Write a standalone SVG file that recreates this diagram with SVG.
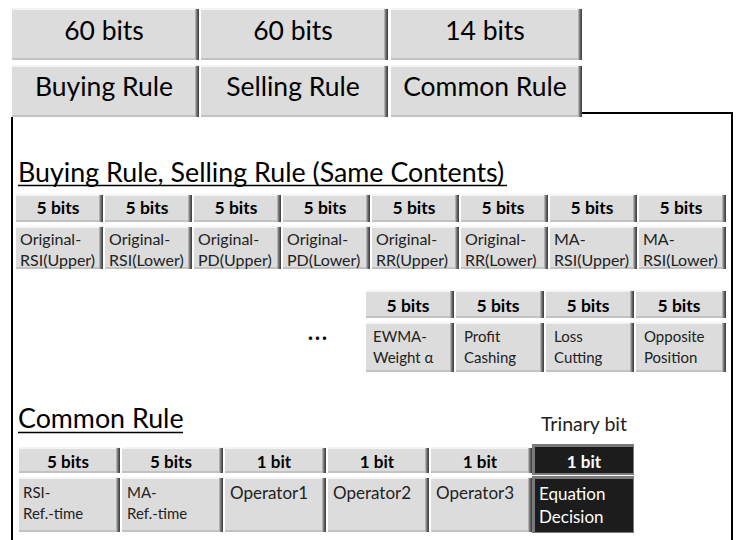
<svg xmlns="http://www.w3.org/2000/svg" width="739" height="540" viewBox="0 0 739 540">
<defs>
<linearGradient id="rg" x1="0" y1="0" x2="1" y2="0"><stop offset="0" stop-color="#c8c8c8"/><stop offset="0.5" stop-color="#6a6a6a"/><stop offset="1" stop-color="#3a3a3a"/></linearGradient>
</defs>
<style>
.f{fill:#dcdcdc}.hl{fill:#f4f4f4}.bt{fill:#c2c2c2}.rt{fill:url(#rg)}
.fk{fill:#1c1c1c}.bk{fill:#7a7a7a}
text{font-family:Lato,"Liberation Sans",sans-serif;fill:#000}
.big{font-size:26.5px;text-anchor:middle}
.hd{font-size:26.8px}
.b5{font-size:17.5px;font-weight:bold;text-anchor:middle}
.b6{font-size:17px;font-weight:bold;text-anchor:middle}
.lb{font-size:16px;fill:#222}
.lc{font-size:15px;fill:#222}
.lb2{font-size:17px;fill:#222}
.w{fill:#fff}
.frame{fill:none;stroke:#000;stroke-width:2}
.ul{stroke:#000;stroke-width:1.5}
</style>
<rect width="739" height="540" fill="#fff"/>
<g id="frame"><path class="frame" d="M582,113H732V540M12,117V540"/></g>
<!-- top row -->
<g id="top-buying">
<rect class="f" x="12" y="8" width="187" height="52"/><rect class="hl" x="12" y="8" width="187" height="2"/><rect class="bt" x="12" y="58" width="187" height="2"/><rect class="rt" x="195" y="9" width="4" height="51"/>
<text class="big" x="104" y="40">60 bits</text>
<rect class="f" x="12" y="65" width="187" height="52"/><rect class="hl" x="12" y="65" width="187" height="2"/><rect class="bt" x="12" y="115" width="187" height="2"/><rect class="rt" x="195" y="66" width="4" height="51"/>
<text class="big" x="104" y="96">Buying Rule</text>
</g>
<g id="top-selling">
<rect class="f" x="201" y="8" width="187" height="52"/><rect class="hl" x="201" y="8" width="187" height="2"/><rect class="bt" x="201" y="58" width="187" height="2"/><rect class="rt" x="384" y="9" width="4" height="51"/>
<text class="big" x="293" y="40">60 bits</text>
<rect class="f" x="201" y="65" width="187" height="52"/><rect class="hl" x="201" y="65" width="187" height="2"/><rect class="bt" x="201" y="115" width="187" height="2"/><rect class="rt" x="384" y="66" width="4" height="51"/>
<text class="big" x="293" y="96">Selling Rule</text>
</g>
<g id="top-common">
<rect class="f" x="391" y="8" width="191" height="52"/><rect class="hl" x="391" y="8" width="191" height="2"/><rect class="bt" x="391" y="58" width="191" height="2"/><rect class="rt" x="578" y="9" width="4" height="51"/>
<text class="big" x="485" y="40">14 bits</text>
<rect class="f" x="391" y="65" width="191" height="52"/><rect class="hl" x="391" y="65" width="191" height="2"/><rect class="bt" x="391" y="115" width="191" height="2"/><rect class="rt" x="578" y="66" width="4" height="51"/>
<text class="big" x="485" y="96">Common Rule</text>
</g>
<!-- heading 1 -->
<g id="heading1">
<text class="hd" x="18" y="182">Buying Rule, Selling Rule (Same Contents)</text>
<line class="ul" x1="18" y1="185.5" x2="507" y2="185.5"/>
</g>
<!-- row 1 -->
<g id="orsi-u">
<rect class="f" x="16" y="194" width="87" height="28"/><rect class="hl" x="16" y="194" width="87" height="2"/><rect class="bt" x="16" y="220" width="87" height="2"/><rect class="rt" x="99" y="195" width="4" height="27"/>
<text class="b5" x="58" y="214">5 bits</text>
<rect class="f" x="16" y="226" width="87" height="43"/><rect class="hl" x="16" y="226" width="87" height="2"/><rect class="bt" x="16" y="267" width="87" height="2"/><rect class="rt" x="99" y="227" width="4" height="42"/>
<text class="lb" x="20" y="245">Original-</text><text class="lb" x="20" y="266">RSI(Upper)</text>
</g>
<g id="orsi-l">
<rect class="f" x="105" y="194" width="87" height="28"/><rect class="hl" x="105" y="194" width="87" height="2"/><rect class="bt" x="105" y="220" width="87" height="2"/><rect class="rt" x="188" y="195" width="4" height="27"/>
<text class="b5" x="147" y="214">5 bits</text>
<rect class="f" x="105" y="226" width="87" height="43"/><rect class="hl" x="105" y="226" width="87" height="2"/><rect class="bt" x="105" y="267" width="87" height="2"/><rect class="rt" x="188" y="227" width="4" height="42"/>
<text class="lb" x="109" y="245">Original-</text><text class="lb" x="109" y="266">RSI(Lower)</text>
</g>
<g id="opd-u">
<rect class="f" x="194" y="194" width="87" height="28"/><rect class="hl" x="194" y="194" width="87" height="2"/><rect class="bt" x="194" y="220" width="87" height="2"/><rect class="rt" x="277" y="195" width="4" height="27"/>
<text class="b5" x="236" y="214">5 bits</text>
<rect class="f" x="194" y="226" width="87" height="43"/><rect class="hl" x="194" y="226" width="87" height="2"/><rect class="bt" x="194" y="267" width="87" height="2"/><rect class="rt" x="277" y="227" width="4" height="42"/>
<text class="lb" x="198" y="245">Original-</text><text class="lb" x="198" y="266">PD(Upper)</text>
</g>
<g id="opd-l">
<rect class="f" x="283" y="194" width="87" height="28"/><rect class="hl" x="283" y="194" width="87" height="2"/><rect class="bt" x="283" y="220" width="87" height="2"/><rect class="rt" x="366" y="195" width="4" height="27"/>
<text class="b5" x="325" y="214">5 bits</text>
<rect class="f" x="283" y="226" width="87" height="43"/><rect class="hl" x="283" y="226" width="87" height="2"/><rect class="bt" x="283" y="267" width="87" height="2"/><rect class="rt" x="366" y="227" width="4" height="42"/>
<text class="lb" x="287" y="245">Original-</text><text class="lb" x="287" y="266">PD(Lower)</text>
</g>
<g id="orr-u">
<rect class="f" x="372" y="194" width="87" height="28"/><rect class="hl" x="372" y="194" width="87" height="2"/><rect class="bt" x="372" y="220" width="87" height="2"/><rect class="rt" x="455" y="195" width="4" height="27"/>
<text class="b5" x="414" y="214">5 bits</text>
<rect class="f" x="372" y="226" width="87" height="43"/><rect class="hl" x="372" y="226" width="87" height="2"/><rect class="bt" x="372" y="267" width="87" height="2"/><rect class="rt" x="455" y="227" width="4" height="42"/>
<text class="lb" x="376" y="245">Original-</text><text class="lb" x="376" y="266">RR(Upper)</text>
</g>
<g id="orr-l">
<rect class="f" x="461" y="194" width="87" height="28"/><rect class="hl" x="461" y="194" width="87" height="2"/><rect class="bt" x="461" y="220" width="87" height="2"/><rect class="rt" x="544" y="195" width="4" height="27"/>
<text class="b5" x="503" y="214">5 bits</text>
<rect class="f" x="461" y="226" width="87" height="43"/><rect class="hl" x="461" y="226" width="87" height="2"/><rect class="bt" x="461" y="267" width="87" height="2"/><rect class="rt" x="544" y="227" width="4" height="42"/>
<text class="lb" x="465" y="245">Original-</text><text class="lb" x="465" y="266">RR(Lower)</text>
</g>
<g id="marsi-u">
<rect class="f" x="550" y="194" width="87" height="28"/><rect class="hl" x="550" y="194" width="87" height="2"/><rect class="bt" x="550" y="220" width="87" height="2"/><rect class="rt" x="633" y="195" width="4" height="27"/>
<text class="b5" x="592" y="214">5 bits</text>
<rect class="f" x="550" y="226" width="87" height="43"/><rect class="hl" x="550" y="226" width="87" height="2"/><rect class="bt" x="550" y="267" width="87" height="2"/><rect class="rt" x="633" y="227" width="4" height="42"/>
<text class="lb" x="554" y="245">MA-</text><text class="lb" x="554" y="266">RSI(Upper)</text>
</g>
<g id="marsi-l">
<rect class="f" x="639" y="194" width="87" height="28"/><rect class="hl" x="639" y="194" width="87" height="2"/><rect class="bt" x="639" y="220" width="87" height="2"/><rect class="rt" x="722" y="195" width="4" height="27"/>
<text class="b5" x="681" y="214">5 bits</text>
<rect class="f" x="639" y="226" width="87" height="43"/><rect class="hl" x="639" y="226" width="87" height="2"/><rect class="bt" x="639" y="267" width="87" height="2"/><rect class="rt" x="722" y="227" width="4" height="42"/>
<text class="lb" x="643" y="245">MA-</text><text class="lb" x="643" y="266">RSI(Lower)</text>
</g>
<!-- row 2 -->
<g id="ellipsis"><text x="308" y="344" style="font-size:18px;font-weight:bold;letter-spacing:2px">···</text></g>
<g id="ewma">
<rect class="f" x="366" y="290" width="88" height="28"/><rect class="hl" x="366" y="290" width="88" height="2"/><rect class="bt" x="366" y="316" width="88" height="2"/><rect class="rt" x="450" y="291" width="4" height="27"/>
<text class="b5" x="408" y="312">5 bits</text>
<rect class="f" x="366" y="322" width="88" height="50"/><rect class="hl" x="366" y="322" width="88" height="2"/><rect class="bt" x="366" y="370" width="88" height="2"/><rect class="rt" x="450" y="323" width="4" height="49"/>
<text class="lc" x="373" y="342">EWMA-</text><text class="lc" x="373" y="363">Weight α</text>
</g>
<g id="profit">
<rect class="f" x="456" y="290" width="88" height="28"/><rect class="hl" x="456" y="290" width="88" height="2"/><rect class="bt" x="456" y="316" width="88" height="2"/><rect class="rt" x="540" y="291" width="4" height="27"/>
<text class="b5" x="498" y="312">5 bits</text>
<rect class="f" x="456" y="322" width="88" height="50"/><rect class="hl" x="456" y="322" width="88" height="2"/><rect class="bt" x="456" y="370" width="88" height="2"/><rect class="rt" x="540" y="323" width="4" height="49"/>
<text class="lc" x="464" y="342">Profit</text><text class="lc" x="464" y="363">Cashing</text>
</g>
<g id="loss">
<rect class="f" x="546" y="290" width="88" height="28"/><rect class="hl" x="546" y="290" width="88" height="2"/><rect class="bt" x="546" y="316" width="88" height="2"/><rect class="rt" x="630" y="291" width="4" height="27"/>
<text class="b5" x="588" y="312">5 bits</text>
<rect class="f" x="546" y="322" width="88" height="50"/><rect class="hl" x="546" y="322" width="88" height="2"/><rect class="bt" x="546" y="370" width="88" height="2"/><rect class="rt" x="630" y="323" width="4" height="49"/>
<text class="lc" x="554" y="342">Loss</text><text class="lc" x="554" y="363">Cutting</text>
</g>
<g id="opposite">
<rect class="f" x="636" y="290" width="90" height="28"/><rect class="hl" x="636" y="290" width="90" height="2"/><rect class="bt" x="636" y="316" width="90" height="2"/><rect class="rt" x="722" y="291" width="4" height="27"/>
<text class="b5" x="679" y="312">5 bits</text>
<rect class="f" x="636" y="322" width="90" height="50"/><rect class="hl" x="636" y="322" width="90" height="2"/><rect class="bt" x="636" y="370" width="90" height="2"/><rect class="rt" x="722" y="323" width="4" height="49"/>
<text class="lc" x="644" y="342">Opposite</text><text class="lc" x="644" y="363">Position</text>
</g>
<!-- heading 2 -->
<g id="heading2">
<text class="hd" x="18" y="428">Common Rule</text>
<line class="ul" x1="18" y1="432.5" x2="183" y2="432.5"/>
<text x="541" y="431" style="font-size:19.5px;fill:#222">Trinary bit</text>
</g>
<!-- bottom row -->
<g id="rsi-ref">
<rect class="f" x="19" y="447" width="101" height="26"/><rect class="hl" x="19" y="447" width="101" height="2"/><rect class="bt" x="19" y="471" width="101" height="2"/><rect class="rt" x="116" y="448" width="4" height="25"/>
<text class="b6" x="68" y="468">5 bits</text>
<rect class="f" x="19" y="477" width="101" height="55"/><rect class="hl" x="19" y="477" width="101" height="2"/><rect class="bt" x="19" y="530" width="101" height="2"/><rect class="rt" x="116" y="478" width="4" height="54"/>
<text class="lc" x="23" y="498">RSI-</text><text class="lc" x="23" y="519">Ref.-time</text>
</g>
<g id="ma-ref">
<rect class="f" x="122" y="447" width="101" height="26"/><rect class="hl" x="122" y="447" width="101" height="2"/><rect class="bt" x="122" y="471" width="101" height="2"/><rect class="rt" x="219" y="448" width="4" height="25"/>
<text class="b6" x="171" y="468">5 bits</text>
<rect class="f" x="122" y="477" width="101" height="55"/><rect class="hl" x="122" y="477" width="101" height="2"/><rect class="bt" x="122" y="530" width="101" height="2"/><rect class="rt" x="219" y="478" width="4" height="54"/>
<text class="lc" x="127" y="498">MA-</text><text class="lc" x="127" y="519">Ref.-time</text>
</g>
<g id="op1">
<rect class="f" x="225" y="447" width="101" height="26"/><rect class="hl" x="225" y="447" width="101" height="2"/><rect class="bt" x="225" y="471" width="101" height="2"/><rect class="rt" x="322" y="448" width="4" height="25"/>
<text class="b6" x="274" y="468">1 bit</text>
<rect class="f" x="225" y="477" width="101" height="55"/><rect class="hl" x="225" y="477" width="101" height="2"/><rect class="bt" x="225" y="530" width="101" height="2"/><rect class="rt" x="322" y="478" width="4" height="54"/>
<text class="lb2" x="230" y="499">Operator1</text>
</g>
<g id="op2">
<rect class="f" x="328" y="447" width="101" height="26"/><rect class="hl" x="328" y="447" width="101" height="2"/><rect class="bt" x="328" y="471" width="101" height="2"/><rect class="rt" x="425" y="448" width="4" height="25"/>
<text class="b6" x="377" y="468">1 bit</text>
<rect class="f" x="328" y="477" width="101" height="55"/><rect class="hl" x="328" y="477" width="101" height="2"/><rect class="bt" x="328" y="530" width="101" height="2"/><rect class="rt" x="425" y="478" width="4" height="54"/>
<text class="lb2" x="333" y="499">Operator2</text>
</g>
<g id="op3">
<rect class="f" x="431" y="447" width="101" height="26"/><rect class="hl" x="431" y="447" width="101" height="2"/><rect class="bt" x="431" y="471" width="101" height="2"/><rect class="rt" x="528" y="448" width="4" height="25"/>
<text class="b6" x="480" y="468">1 bit</text>
<rect class="f" x="431" y="477" width="101" height="55"/><rect class="hl" x="431" y="477" width="101" height="2"/><rect class="bt" x="431" y="530" width="101" height="2"/><rect class="rt" x="528" y="478" width="4" height="54"/>
<text class="lb2" x="436" y="499">Operator3</text>
</g>
<g id="eqdec">
<rect class="bk" x="532" y="444" width="102" height="31"/><rect class="fk" x="535" y="447" width="98" height="26"/>
<text class="b6 w" x="584" y="468">1 bit</text>
<rect class="bk" x="532" y="476" width="102" height="57"/><rect class="fk" x="535" y="479" width="98" height="53"/>
<text class="lb2 w" x="539" y="500">Equation</text><text class="lb2 w" x="539" y="523">Decision</text>
</g>
</svg>
